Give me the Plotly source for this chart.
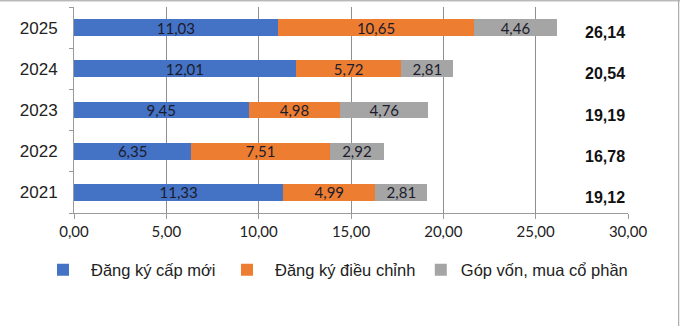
import plotly.graph_objects as go

years = ["2021", "2022", "2023", "2024", "2025"]
new_reg = [11.33, 6.35, 9.45, 12.01, 11.03]
adjust_reg = [4.99, 7.51, 4.98, 5.72, 10.65]
capital = [2.81, 2.92, 4.76, 2.81, 4.46]
totals = [19.12, 16.78, 19.19, 20.54, 26.14]
x_ticks = [0, 5, 10, 15, 20, 25, 30]
series_names = ["Đăng ký cấp mới", "Đăng ký điều chỉnh", "Góp vốn, mua cổ phần"]
colors = ["#4472C4", "#ED7D31", "#A5A5A5"]
legend_ids = ["legend", "legend2", "legend3"]


def vn(v):
    return f"{v:.2f}".replace(".", ",")


fig = go.Figure()
for name, vals, col, lg in zip(series_names, [new_reg, adjust_reg, capital], colors, legend_ids):
    fig.add_trace(go.Bar(
        y=years, x=vals, name=name, orientation="h", legend=lg,
        marker=dict(color=col, line=dict(width=0)),
        text=[vn(v) for v in vals], textposition="inside", insidetextanchor="middle",
        textangle=0, constraintext="none",
        textfont=dict(family="Lato", size=15, color="#1c1c2c"),
    ))

for i, t in enumerate(totals):
    fig.add_annotation(
        x=28.75, y=i, xref="x", yref="y", text=vn(t),
        showarrow=False, xanchor="center", yshift=-5,
        font=dict(family="Liberation Sans", size=16, color="#111111", weight="bold"),
    )

# outer frame fragments (top and right)
fig.add_shape(type="line", xref="paper", yref="paper", x0=-0.2, x1=1.095, y0=1.03, y1=1.03,
              line=dict(color="#9a9a9a", width=1))
fig.add_shape(type="line", xref="paper", yref="paper", x0=1.0915, x1=1.0915, y0=-0.6, y1=1.03,
              line=dict(color="#9a9a9a", width=1))

legend_font = dict(family="Liberation Sans", size=16.5, color="#222222")
fig.update_layout(
    width=680, height=326,
    barmode="stack", bargap=0.59,
    plot_bgcolor="white", paper_bgcolor="white",
    margin=dict(l=74, r=52, t=7, b=113),
    font=dict(family="Liberation Sans", color="#222222"),
    xaxis=dict(
        range=[0, 30], autorange=False, tickvals=x_ticks, ticktext=[vn(v) for v in x_ticks],
        showgrid=True, gridcolor="#8f8f8f", gridwidth=1,
        showline=True, linecolor="#9a9a9a", linewidth=1,
        ticks="outside", ticklen=5, tickcolor="#9a9a9a",
        tickfont=dict(family="Lato", size=15, color="#222222"),
        zeroline=False,
    ),
    yaxis=dict(
        type="category", categoryorder="array", categoryarray=years,
        range=[-0.5, 4.5], autorange=False,
        showline=True, linecolor="#9a9a9a", linewidth=1,
        ticks="outside", ticklen=4, tickcolor="#9a9a9a", tickson="boundaries",
        tickfont=dict(family="Liberation Sans", size=17, color="#222222"),
        ticklabelstandoff=12,
        showgrid=False, zeroline=False,
    ),
    legend=dict(orientation="h", x=-0.0704, xanchor="left", y=-0.277, yanchor="middle",
                font=legend_font, itemwidth=46, bgcolor="rgba(0,0,0,0)"),
    legend2=dict(orientation="h", x=0.2617, xanchor="left", y=-0.277, yanchor="middle",
                 font=legend_font, itemwidth=46, bgcolor="rgba(0,0,0,0)"),
    legend3=dict(orientation="h", x=0.626, xanchor="left", y=-0.277, yanchor="middle",
                 font=legend_font, itemwidth=30, bgcolor="rgba(0,0,0,0)"),
    showlegend=True,
)

fig.write_html("out.html")
